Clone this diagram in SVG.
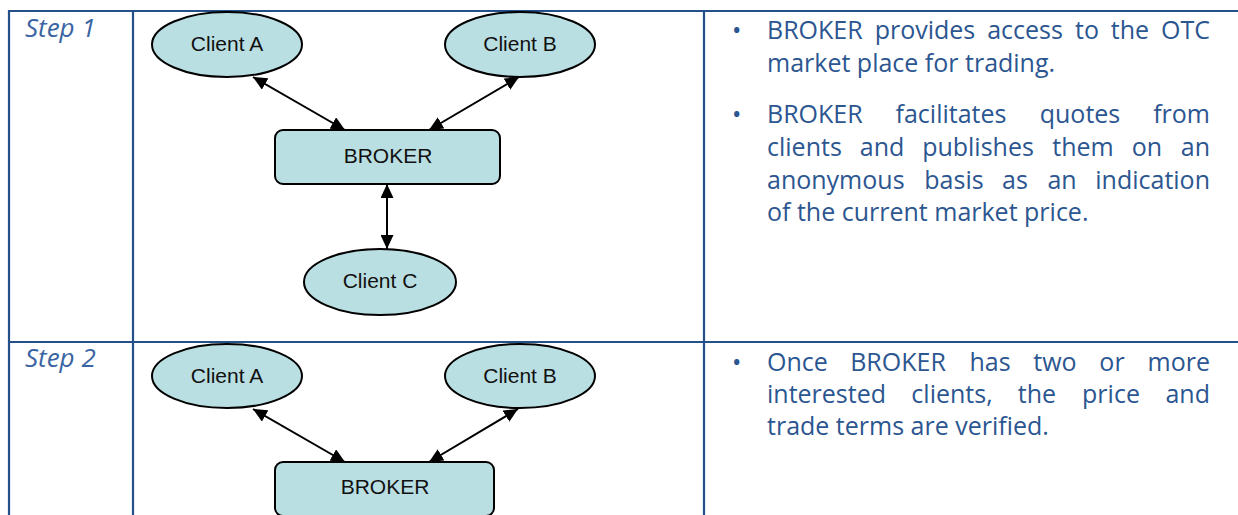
<svg xmlns="http://www.w3.org/2000/svg" width="1238" height="515" viewBox="0 0 1238 515">
<style>
.grid{stroke:#24508a;stroke-width:2.2;fill:none}
.step{font-family:"Open Sans","Noto Sans",sans-serif;font-style:italic;font-size:26px;fill:#3a65a2}
.body{font-family:"Open Sans","Noto Sans",sans-serif;font-size:25px;fill:#2c5690}
.body .m{text-anchor:middle}
.body .e{text-anchor:end}
.node ellipse,.node rect{fill:#badfe3;stroke:#000;stroke-width:2}
.node text{font-family:"Liberation Sans",Arial,sans-serif;font-size:21px;fill:#111;text-anchor:middle}
.conn line{stroke:#000;stroke-width:2;marker-start:url(#ah);marker-end:url(#ah)}
</style>
<defs>
<marker id="ah" viewBox="0 0 14 13" refX="14" refY="6.5" markerWidth="14" markerHeight="13" markerUnits="userSpaceOnUse" orient="auto-start-reverse">
<path d="M0,0 L14,6.5 L0,13 z" fill="#000"/>
</marker>
</defs>
<rect width="1238" height="515" fill="#fff"/>
<g id="table">
<line class="grid" x1="8" y1="11" x2="1238" y2="11"/>
<line class="grid" x1="8" y1="342" x2="1238" y2="342"/>
<line class="grid" x1="9" y1="10" x2="9" y2="515"/>
<line class="grid" x1="133" y1="10" x2="133" y2="515"/>
<line class="grid" x1="704" y1="10" x2="704" y2="515"/>
</g>
<text class="step" x="25" y="37">Step 1</text>
<text class="step" x="25" y="367">Step 2</text>
<g id="text-step1" class="body">
<text x="732" y="39">•</text>
<text y="39"><tspan x="767">BROKER</tspan><tspan class="m" x="925">provides</tspan><tspan class="m" x="1025">access</tspan><tspan class="m" x="1087">to</tspan><tspan class="m" x="1130">the</tspan><tspan class="e" x="1210">OTC</tspan></text>
<text x="767" y="72">market place for trading.</text>
<text x="732" y="123">•</text>
<text y="123"><tspan x="767">BROKER</tspan><tspan class="m" x="951">facilitates</tspan><tspan class="m" x="1080">quotes</tspan><tspan class="e" x="1210">from</tspan></text>
<text y="156"><tspan x="767">clients</tspan><tspan class="m" x="882">and</tspan><tspan class="m" x="978">publishes</tspan><tspan class="m" x="1083">them</tspan><tspan class="m" x="1147">on</tspan><tspan class="e" x="1210">an</tspan></text>
<text y="189"><tspan x="767">anonymous</tspan><tspan class="m" x="954">basis</tspan><tspan class="m" x="1015">as</tspan><tspan class="m" x="1062">an</tspan><tspan class="e" x="1210">indication</tspan></text>
<text x="767" y="221">of the current market price.</text>
</g>
<g id="text-step2" class="body">
<text x="732" y="371">•</text>
<text y="371"><tspan x="767">Once</tspan><tspan class="m" x="898">BROKER</tspan><tspan class="m" x="990">has</tspan><tspan class="m" x="1055">two</tspan><tspan class="m" x="1112">or</tspan><tspan class="e" x="1210">more</tspan></text>
<text y="403"><tspan x="767">interested</tspan><tspan class="m" x="952">clients,</tspan><tspan class="m" x="1037">the</tspan><tspan class="m" x="1111">price</tspan><tspan class="e" x="1210">and</tspan></text>
<text x="767" y="435">trade terms are verified.</text>
</g>
<g id="connectors" class="conn">
<line x1="253" y1="77" x2="345" y2="130"/>
<line x1="519" y1="77" x2="429" y2="130"/>
<line x1="387" y1="184" x2="387" y2="249"/>
<line x1="253" y1="409" x2="345" y2="462"/>
<line x1="518" y1="409" x2="429" y2="462"/>
</g>
<g id="s1-client-a" class="node"><ellipse cx="227" cy="44.5" rx="75" ry="32.5"/><text x="227" y="51">Client A</text></g>
<g id="s1-client-b" class="node"><ellipse cx="520" cy="44.5" rx="75" ry="32.5"/><text x="520" y="51">Client B</text></g>
<g id="s1-broker" class="node"><rect x="275" y="130" width="225" height="54" rx="8"/><text x="388" y="163">BROKER</text></g>
<g id="s1-client-c" class="node"><ellipse cx="380" cy="282" rx="76" ry="33"/><text x="380" y="288">Client C</text></g>
<g id="s2-client-a" class="node"><ellipse cx="227" cy="376" rx="75" ry="32"/><text x="227" y="383">Client A</text></g>
<g id="s2-client-b" class="node"><ellipse cx="520" cy="376" rx="75" ry="32"/><text x="520" y="383">Client B</text></g>
<g id="s2-broker" class="node"><rect x="275" y="462" width="219" height="54" rx="8"/><text x="385" y="494">BROKER</text></g>
</svg>
